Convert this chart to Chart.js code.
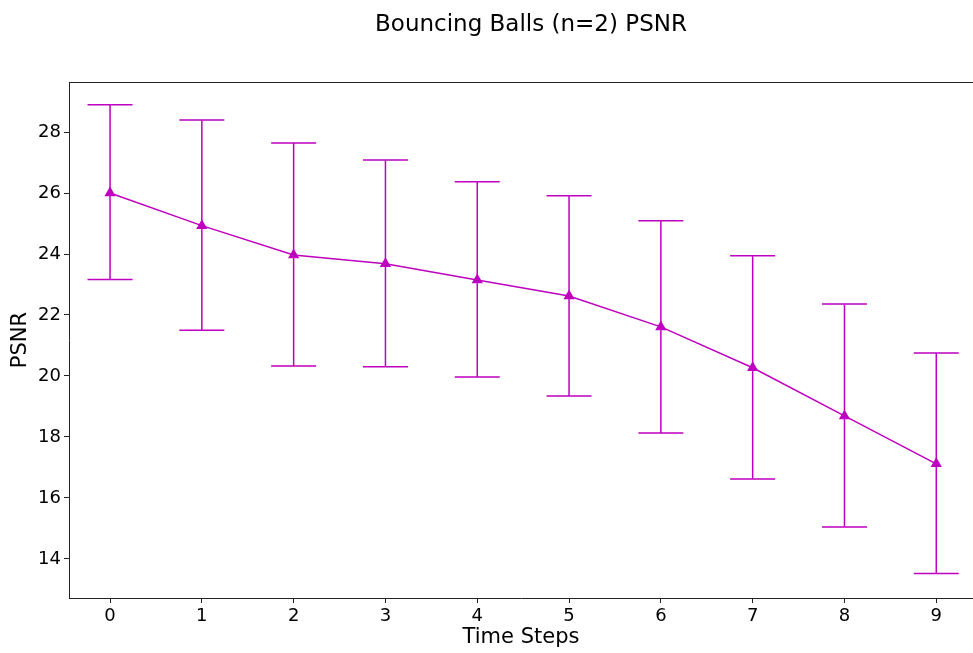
<!DOCTYPE html>
<html>
<head>
<meta charset="utf-8">
<script src="https://cdn.jsdelivr.net/npm/chart.js@4/dist/chart.umd.min.js"></script>
<style>
  html,body{margin:0;padding:0;background:#fff;overflow:hidden;}
  canvas{display:block;}
</style>
</head>
<body>
<canvas id="c" width="973" height="653"></canvas>
<script>
const steps  = [0, 1, 2, 3, 4, 5, 6, 7, 8, 9];
const psnr   = [26.0, 24.93, 23.97, 23.68, 23.15, 22.62, 21.61, 20.27, 18.69, 17.12];
const upper  = [28.89, 28.39, 27.64, 27.08, 26.37, 25.91, 25.09, 23.94, 22.36, 20.75];
const lower  = [23.16, 21.50, 20.33, 20.30, 19.97, 19.34, 18.13, 16.62, 15.05, 13.52];
const yTicks = [14, 16, 18, 20, 22, 24, 26, 28];
const xTicks = [0, 1, 2, 3, 4, 5, 6, 7, 8, 9];

const MAG = '#bf00bf';
const FONT = "'DejaVu Sans', sans-serif";

// error bars + top spine + figure title
const extras = {
  id:'extras',
  beforeDatasetsDraw(chart){
    const {ctx, scales:{x,y}} = chart;
    ctx.save();
    ctx.strokeStyle = MAG; ctx.lineWidth = 1.5;
    steps.forEach((s,i)=>{
      const px = x.getPixelForValue(s);
      const pt = y.getPixelForValue(upper[i]), pb = y.getPixelForValue(lower[i]);
      ctx.beginPath();
      ctx.moveTo(px, pt); ctx.lineTo(px, pb);
      ctx.moveTo(px-22.5, pt); ctx.lineTo(px+22.5, pt);
      ctx.moveTo(px-22.5, pb); ctx.lineTo(px+22.5, pb);
      ctx.stroke();
    });
    ctx.restore();
  },
  afterDraw(chart){
    const {ctx, chartArea:a} = chart;
    ctx.save();
    ctx.strokeStyle = '#222'; ctx.lineWidth = 1;
    ctx.beginPath();
    ctx.moveTo(a.left, a.top+0.5); ctx.lineTo(a.right, a.top+0.5);
    ctx.stroke();
    ctx.fillStyle = '#000';
    ctx.font = `23px ${FONT}`;
    ctx.textAlign = 'center'; ctx.textBaseline = 'middle';
    ctx.fillText('Bouncing Balls (n=2) PSNR', 531, 25);
    ctx.restore();
  }
};

new Chart(document.getElementById('c'), {
  type:'line',
  data:{ datasets:[{
    data: steps.map((s,i)=>({x:s, y:psnr[i]})),
    borderColor: MAG, backgroundColor: MAG, borderWidth: 1.5,
    pointStyle:'triangle', pointRadius:6.5, pointHoverRadius:6.5,
    pointBorderWidth:0, tension:0, fill:false
  }]},
  options:{
    responsive:false, animation:false, devicePixelRatio:1,
    layout:{ autoPadding:false, padding:{top:82, right:0, left:0, bottom:0} },
    plugins:{ legend:{display:false}, tooltip:{enabled:false} },
    scales:{
      x:{
        type:'linear', min:-0.447, max:9.40,
        afterBuildTicks: s => { s.ticks = xTicks.map(v=>({value:v})); },
        afterFit: s => { s.height = 55; s.paddingLeft = 0; s.paddingRight = 0; },
        grid:{ drawOnChartArea:false, drawTicks:true, tickLength:5, color:'#222' },
        border:{ display:true, color:'#222', width:1 },
        ticks:{ color:'#000', font:{family:FONT, size:18}, padding:3, maxRotation:0 },
        title:{ display:true, text:'Time Steps', color:'#000', font:{family:FONT, size:21}, padding:{top:0, bottom:3} }
      },
      y:{
        type:'linear', min:12.72, max:29.64,
        afterBuildTicks: s => { s.ticks = yTicks.map(v=>({value:v})); },
        afterFit: s => { s.width = 69; s.paddingTop = 0; s.paddingBottom = 0; },
        grid:{ drawOnChartArea:false, drawTicks:true, tickLength:5, color:'#222' },
        border:{ display:true, color:'#222', width:1 },
        ticks:{ color:'#000', font:{family:FONT, size:18}, padding:3 },
        title:{ display:true, text:'PSNR', color:'#000', font:{family:FONT, size:21}, padding:{top:8, bottom:0} }
      }
    }
  },
  plugins:[extras]
});
</script>
</body>
</html>
